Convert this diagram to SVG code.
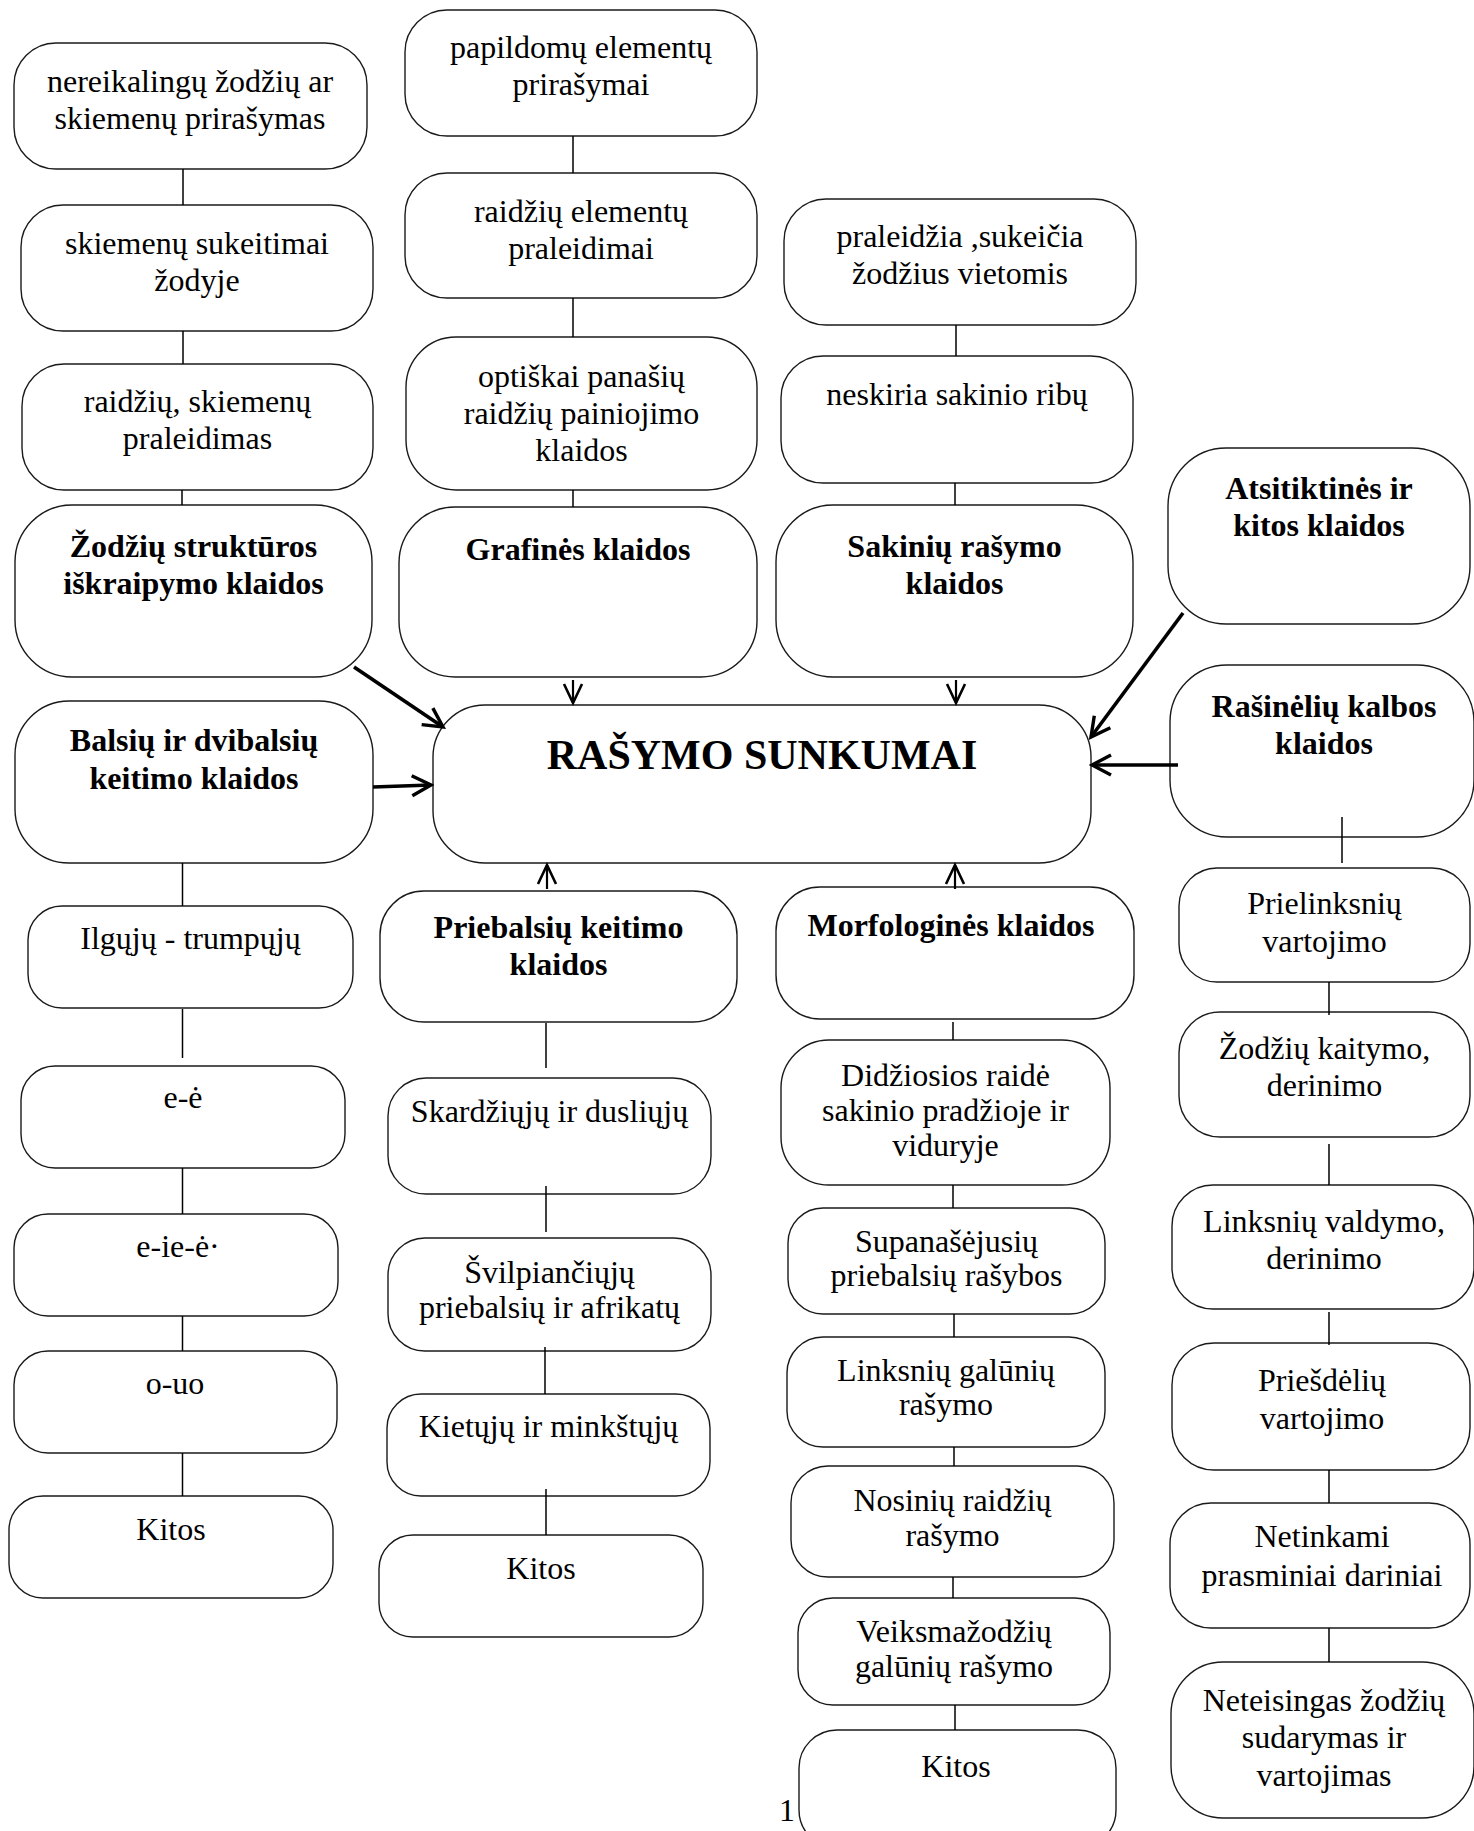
<svg xmlns="http://www.w3.org/2000/svg" width="1474" height="1831" viewBox="0 0 1474 1831">
<style>
.box{fill:#fff;stroke:#1a1a1a;stroke-width:1.4}
.t{font-family:"Liberation Serif","Times New Roman",serif;font-size:32px;text-anchor:middle;fill:#000}
.b{font-weight:bold}
.big{font-size:42px;font-weight:bold}
.conn{stroke:#000;stroke-width:1.5;fill:none}
.arr{stroke:#000;stroke-width:3.6;fill:none}
.arrs{stroke:#000;stroke-width:2.2;fill:none}
</style>
<defs>
<marker id="mBig" viewBox="0 0 24 24" refX="21" refY="12" markerWidth="24" markerHeight="24" markerUnits="userSpaceOnUse" orient="auto">
<path d="M2,2 L21,12 L2,22" fill="none" stroke="#000" stroke-width="3.4"/>
</marker>
<marker id="mSmall" viewBox="0 0 24 24" refX="21" refY="12" markerWidth="24" markerHeight="24" markerUnits="userSpaceOnUse" orient="auto">
<path d="M2,3 L21,12 L2,21" fill="none" stroke="#000" stroke-width="2.6"/>
</marker>
</defs>
<rect width="1474" height="1831" fill="#fff"/>

<g id="n-nereikalingu">
<rect class="box" x="14" y="43" width="353" height="126" rx="42"/>
<text class="t" x="190" y="92">nereikalingų žodžių ar</text>
<text class="t" x="190" y="129">skiemenų prirašymas</text>
</g>
<g id="n-skiemenu-sukeitimai">
<rect class="box" x="21" y="205" width="352" height="126" rx="42"/>
<text class="t" x="197" y="254">skiemenų sukeitimai</text>
<text class="t" x="197" y="291">žodyje</text>
</g>
<g id="n-raidziu-skiemenu">
<rect class="box" x="22" y="364" width="351" height="126" rx="42"/>
<text class="t" x="197.5" y="412">raidžių, skiemenų</text>
<text class="t" x="197.5" y="449">praleidimas</text>
</g>
<g id="n-zodziu-strukturos">
<rect class="box" x="15" y="505" width="357" height="172" rx="57"/>
<text class="t b" x="193.5" y="557">Žodžių struktūros</text>
<text class="t b" x="193.5" y="594">iškraipymo klaidos</text>
</g>
<g id="n-papildomu">
<rect class="box" x="405" y="10" width="352" height="126" rx="42"/>
<text class="t" x="581" y="58">papildomų elementų</text>
<text class="t" x="581" y="95">prirašymai</text>
</g>
<g id="n-raidziu-elementu">
<rect class="box" x="405" y="173" width="352" height="125" rx="42"/>
<text class="t" x="581" y="222">raidžių elementų</text>
<text class="t" x="581" y="259">praleidimai</text>
</g>
<g id="n-optiskai">
<rect class="box" x="406" y="337" width="351" height="153" rx="50"/>
<text class="t" x="581.5" y="387">optiškai panašių</text>
<text class="t" x="581.5" y="424">raidžių painiojimo</text>
<text class="t" x="581.5" y="461">klaidos</text>
</g>
<g id="n-grafines">
<rect class="box" x="399" y="507" width="358" height="170" rx="56"/>
<text class="t b" x="578" y="560">Grafinės klaidos</text>
</g>
<g id="n-praleidzia">
<rect class="box" x="784" y="199" width="352" height="126" rx="42"/>
<text class="t" x="960" y="247">praleidžia ,sukeičia</text>
<text class="t" x="960" y="284">žodžius vietomis</text>
</g>
<g id="n-neskiria">
<rect class="box" x="781" y="356" width="352" height="127" rx="42"/>
<text class="t" x="957" y="405">neskiria sakinio ribų</text>
</g>
<g id="n-sakiniu">
<rect class="box" x="776" y="505" width="357" height="172" rx="57"/>
<text class="t b" x="954.5" y="557">Sakinių rašymo</text>
<text class="t b" x="954.5" y="594">klaidos</text>
</g>
<g id="n-atsitiktines">
<rect class="box" x="1168" y="448" width="302" height="176" rx="58"/>
<text class="t b" x="1319" y="499">Atsitiktinės ir</text>
<text class="t b" x="1319" y="536">kitos klaidos</text>
</g>
<g id="n-rasymo-sunkumai">
<rect class="box" x="433" y="705" width="658" height="158" rx="52"/>
<text class="t big" x="762" y="769">RAŠYMO SUNKUMAI</text>
</g>
<g id="n-rasineliu">
<rect class="box" x="1170" y="665" width="304" height="172" rx="57"/>
<text class="t b" x="1324" y="717">Rašinėlių kalbos</text>
<text class="t b" x="1324" y="754">klaidos</text>
</g>
<g id="n-balsiu">
<rect class="box" x="15" y="701" width="358" height="162" rx="54"/>
<text class="t b" x="194" y="751">Balsių ir dvibalsių</text>
<text class="t b" x="194" y="789">keitimo klaidos</text>
</g>
<g id="n-ilguju">
<rect class="box" x="28" y="906" width="325" height="102" rx="34"/>
<text class="t" x="190.5" y="949">Ilgųjų - trumpųjų</text>
</g>
<g id="n-e-e">
<rect class="box" x="21" y="1066" width="324" height="102" rx="34"/>
<text class="t" x="183" y="1108">e-ė</text>
</g>
<g id="n-e-ie-e">
<rect class="box" x="14" y="1214" width="324" height="102" rx="34"/>
<text class="t" x="178" y="1257">e-ie-ė·</text>
</g>
<g id="n-o-uo">
<rect class="box" x="14" y="1351" width="323" height="102" rx="34"/>
<text class="t" x="175" y="1394">o-uo</text>
</g>
<g id="n-kitos-1">
<rect class="box" x="9" y="1496" width="324" height="102" rx="34"/>
<text class="t" x="171" y="1540">Kitos</text>
</g>
<g id="n-priebalsiu">
<rect class="box" x="380" y="891" width="357" height="131" rx="44"/>
<text class="t b" x="558.5" y="938">Priebalsių keitimo</text>
<text class="t b" x="558.5" y="975">klaidos</text>
</g>
<g id="n-skardziuju">
<rect class="box" x="388" y="1078" width="323" height="116" rx="38"/>
<text class="t" x="549.5" y="1122">Skardžiųjų ir dusliųjų</text>
</g>
<g id="n-svilpianciuju">
<rect class="box" x="388" y="1238" width="323" height="113" rx="37"/>
<text class="t" x="549.5" y="1283">Švilpiančiųjų</text>
<text class="t" x="549.5" y="1318">priebalsių ir afrikatų</text>
</g>
<g id="n-kietuju">
<rect class="box" x="387" y="1394" width="323" height="102" rx="34"/>
<text class="t" x="548.5" y="1437">Kietųjų ir minkštųjų</text>
</g>
<g id="n-kitos-2">
<rect class="box" x="379" y="1535" width="324" height="102" rx="34"/>
<text class="t" x="541" y="1579">Kitos</text>
</g>
<g id="n-morfologines">
<rect class="box" x="776" y="887" width="358" height="132" rx="44"/>
<text class="t b" x="951" y="936">Morfologinės klaidos</text>
</g>
<g id="n-didziosios">
<rect class="box" x="781" y="1040" width="329" height="145" rx="48"/>
<text class="t" x="945.5" y="1086">Didžiosios raidė</text>
<text class="t" x="945.5" y="1121">sakinio pradžioje ir</text>
<text class="t" x="945.5" y="1156">viduryje</text>
</g>
<g id="n-supanasejusiu">
<rect class="box" x="788" y="1208" width="317" height="106" rx="35"/>
<text class="t" x="946.5" y="1252">Supanašėjusių</text>
<text class="t" x="946.5" y="1286">priebalsių rašybos</text>
</g>
<g id="n-linksniu-galuniu">
<rect class="box" x="787" y="1337" width="318" height="110" rx="36"/>
<text class="t" x="946" y="1381">Linksnių galūnių</text>
<text class="t" x="946" y="1415">rašymo</text>
</g>
<g id="n-nosiniu">
<rect class="box" x="791" y="1466" width="323" height="111" rx="37"/>
<text class="t" x="952.5" y="1511">Nosinių raidžių</text>
<text class="t" x="952.5" y="1546">rašymo</text>
</g>
<g id="n-veiksmazodziu">
<rect class="box" x="798" y="1598" width="312" height="107" rx="35"/>
<text class="t" x="954" y="1642">Veiksmažodžių</text>
<text class="t" x="954" y="1677">galūnių rašymo</text>
</g>
<g id="n-kitos-3">
<rect class="box" x="799" y="1730" width="317" height="118" rx="38"/>
<text class="t" x="956" y="1777">Kitos</text>
</g>
<g id="n-prielinksniu">
<rect class="box" x="1179" y="868" width="291" height="114" rx="38"/>
<text class="t" x="1324.5" y="914">Prielinksnių</text>
<text class="t" x="1324.5" y="952">vartojimo</text>
</g>
<g id="n-zodziu-kaitymo">
<rect class="box" x="1179" y="1012" width="291" height="125" rx="41"/>
<text class="t" x="1324.5" y="1059">Žodžių kaitymo,</text>
<text class="t" x="1324.5" y="1096">derinimo</text>
</g>
<g id="n-linksniu-valdymo">
<rect class="box" x="1172" y="1185" width="302" height="124" rx="41"/>
<text class="t" x="1324" y="1232">Linksnių valdymo,</text>
<text class="t" x="1324" y="1269">derinimo</text>
</g>
<g id="n-priesdeliu">
<rect class="box" x="1172" y="1343" width="298" height="127" rx="42"/>
<text class="t" x="1322" y="1391">Priešdėlių</text>
<text class="t" x="1322" y="1429">vartojimo</text>
</g>
<g id="n-netinkami">
<rect class="box" x="1170" y="1503" width="300" height="125" rx="41"/>
<text class="t" x="1322" y="1547">Netinkami</text>
<text class="t" x="1322" y="1586">prasminiai dariniai</text>
</g>
<g id="n-neteisingas">
<rect class="box" x="1171" y="1662" width="303" height="156" rx="52"/>
<text class="t" x="1324" y="1711">Neteisingas žodžių</text>
<text class="t" x="1324" y="1748">sudarymas ir</text>
<text class="t" x="1324" y="1786">vartojimas</text>
</g>

<g id="connectors">
<line class="conn" x1="183" y1="169" x2="183" y2="205"/>
<line class="conn" x1="183" y1="331" x2="183" y2="364"/>
<line class="conn" x1="182" y1="490" x2="182" y2="505"/>
<line class="conn" x1="573" y1="136" x2="573" y2="173"/>
<line class="conn" x1="573" y1="298" x2="573" y2="337"/>
<line class="conn" x1="573" y1="490" x2="573" y2="507"/>
<line class="conn" x1="956" y1="325" x2="956" y2="356"/>
<line class="conn" x1="955" y1="483" x2="955" y2="505"/>
<line class="conn" x1="1342" y1="817" x2="1342" y2="863"/>
<line class="conn" x1="1329" y1="982" x2="1329" y2="1015"/>
<line class="conn" x1="1329" y1="1144" x2="1329" y2="1185"/>
<line class="conn" x1="1329" y1="1312" x2="1329" y2="1345"/>
<line class="conn" x1="1329" y1="1470" x2="1329" y2="1503"/>
<line class="conn" x1="1329" y1="1628" x2="1329" y2="1662"/>
<line class="conn" x1="182.5" y1="863" x2="182.5" y2="906"/>
<line class="conn" x1="182.5" y1="1009" x2="182.5" y2="1058"/>
<line class="conn" x1="182.5" y1="1168" x2="182.5" y2="1214"/>
<line class="conn" x1="182.5" y1="1316" x2="182.5" y2="1351"/>
<line class="conn" x1="182.5" y1="1453" x2="182.5" y2="1496"/>
<line class="conn" x1="546" y1="1023" x2="546" y2="1068"/>
<line class="conn" x1="546" y1="1186" x2="546" y2="1232"/>
<line class="conn" x1="545" y1="1347" x2="545" y2="1394"/>
<line class="conn" x1="546" y1="1489" x2="546" y2="1535"/>
<line class="conn" x1="953" y1="1022" x2="953" y2="1040"/>
<line class="conn" x1="953" y1="1185" x2="953" y2="1208"/>
<line class="conn" x1="954" y1="1314" x2="954" y2="1337"/>
<line class="conn" x1="954" y1="1447" x2="954" y2="1466"/>
<line class="conn" x1="953" y1="1577" x2="953" y2="1598"/>
<line class="conn" x1="955" y1="1705" x2="955" y2="1730"/>
<line class="arrs" x1="573" y1="680" x2="573" y2="703" marker-end="url(#mSmall)"/>
<line class="arrs" x1="956" y1="680" x2="956" y2="703" marker-end="url(#mSmall)"/>
<line class="arrs" x1="547" y1="889" x2="547" y2="865" marker-end="url(#mSmall)"/>
<line class="arrs" x1="955" y1="889" x2="955" y2="865" marker-end="url(#mSmall)"/>
<line class="arr" x1="354" y1="667" x2="443" y2="727" marker-end="url(#mBig)"/>
<line class="arr" x1="373" y1="787" x2="431" y2="785" marker-end="url(#mBig)"/>
<line class="arr" x1="1183" y1="613" x2="1091" y2="737" marker-end="url(#mBig)"/>
<line class="arr" x1="1178" y1="765" x2="1092" y2="765" marker-end="url(#mBig)"/>
</g>
<text class="t" x="787" y="1821">1</text>
</svg>
